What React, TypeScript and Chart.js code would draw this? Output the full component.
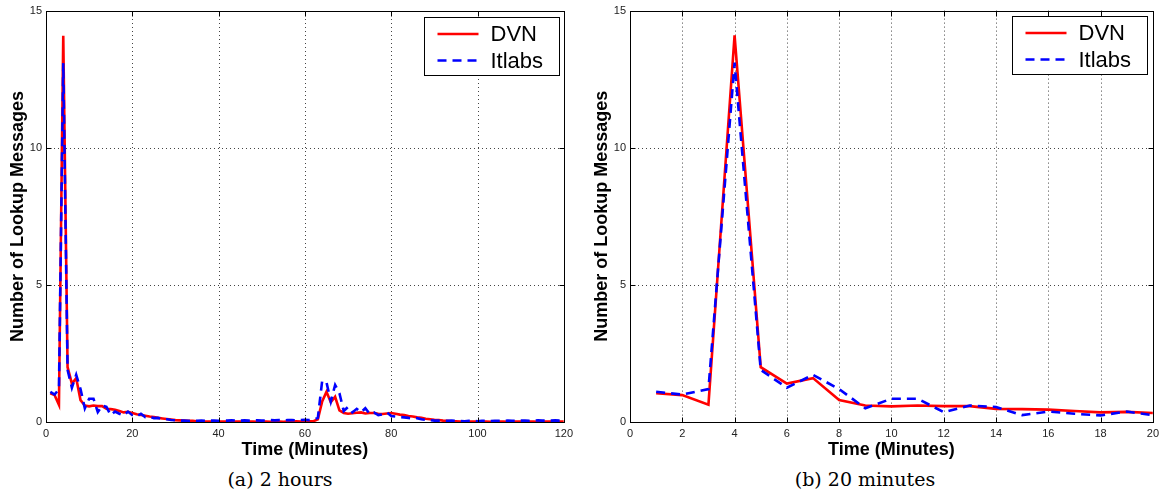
import React, { useEffect, useRef } from 'react';
import { Chart, registerables } from 'chart.js';

Chart.register(...registerables);

// ---- data (values per minute, minutes 1..120) ----
const SERIES_NAMES = ['DVN', 'Itlabs'];
const DVN = [
  1.05, 0.98, 0.63, 14.1, 2.0, 1.4, 1.6, 0.8, 0.6, 0.57,
  0.6, 0.58, 0.58, 0.48, 0.47, 0.45, 0.4, 0.35, 0.37, 0.33,
  0.28, 0.26, 0.23, 0.2, 0.18, 0.15, 0.13, 0.11, 0.09, 0.07,
  0.06, 0.05, 0.04, 0.04, 0.03, 0.03, 0.02, 0.02, 0.02, 0.02,
  0.02, 0.02, 0.01, 0.02, 0.02, 0.01, 0.02, 0.02, 0.01, 0.02,
  0.02, 0.01, 0.02, 0.02, 0.01, 0.02, 0.02, 0.03, 0.02, 0.02,
  0.03, 0.03, 0.1, 0.75, 1.1, 0.72, 0.92, 0.42, 0.33, 0.3,
  0.32, 0.34, 0.35, 0.31, 0.33, 0.33, 0.3, 0.29, 0.31, 0.33,
  0.3, 0.27, 0.25, 0.22, 0.2, 0.17, 0.15, 0.12, 0.1, 0.08,
  0.07, 0.05, 0.04, 0.03, 0.03, 0.02, 0.02, 0.02, 0.02, 0.02,
  0.02, 0.02, 0.01, 0.02, 0.02, 0.02, 0.01, 0.02, 0.02, 0.02,
  0.02, 0.02, 0.02, 0.01, 0.02, 0.02, 0.02, 0.02, 0.02, 0.02,
];
const ITLABS = [
  1.1, 1.0, 1.2, 13.1, 1.9, 1.25, 1.72, 1.2, 0.5, 0.85,
  0.85, 0.36, 0.6, 0.55, 0.25, 0.38, 0.3, 0.24, 0.38, 0.25,
  0.2, 0.3, 0.18, 0.2, 0.14, 0.15, 0.1, 0.1, 0.07, 0.06,
  0.05, 0.05, 0.04, 0.05, 0.04, 0.05, 0.04, 0.05, 0.05, 0.04,
  0.05, 0.05, 0.06, 0.05, 0.05, 0.06, 0.05, 0.06, 0.06, 0.05,
  0.06, 0.07, 0.06, 0.07, 0.06, 0.07, 0.07, 0.06, 0.07, 0.08,
  0.07, 0.08, 0.15, 1.5, 1.45, 0.75, 1.35, 1.05, 0.4, 0.55,
  0.35, 0.48, 0.35, 0.5, 0.3, 0.35, 0.25, 0.28, 0.35, 0.22,
  0.2, 0.18, 0.17, 0.15, 0.12, 0.14, 0.1, 0.08, 0.07, 0.05,
  0.05, 0.04, 0.04, 0.05, 0.04, 0.04, 0.03, 0.04, 0.04, 0.03,
  0.04, 0.04, 0.03, 0.04, 0.04, 0.04, 0.05, 0.04, 0.04, 0.05,
  0.05, 0.04, 0.05, 0.06, 0.05, 0.05, 0.05, 0.06, 0.05, 0.05,
];
const MINUTES = DVN.map((_, i) => i + 1);

const X_MAX_2H = 120;
const X_STEP_2H = 20;
const X_MAX_20M = 20;
const X_STEP_20M = 2;
const Y_MAX = 15;
const Y_STEP = 5;

const X_TITLE = 'Time (Minutes)';
const Y_TITLE = 'Number of Lookup Messages';
const CAPTIONS = ['(a) 2 hours', '(b) 20 minutes'];

const SANS = '"Liberation Sans", Arial, Helvetica, sans-serif';

type PanelCfg = {
  count: number;
  xMax: number;
  xStep: number;
  width: number;
  height: number;
  padTop: number;
  padRight: number;
  yWidth: number;
  yTitlePad: number;
  legRight: number;
  legTop: number;
};

function makeFramePlugin(cfg: PanelCfg) {
  return {
    id: 'matlabFrame',
    beforeDatasetsDraw(chart: any) {
      const { ctx, chartArea: a, scales } = chart;
      const x = scales.x;
      const y = scales.y;
      ctx.save();
      ctx.strokeStyle = '#444';
      ctx.lineWidth = 1;
      ctx.setLineDash([1, 3]);
      x.ticks.forEach((t: any) => {
        const px = Math.round(x.getPixelForValue(t.value)) + 0.5;
        if (px <= a.left + 2 || px >= a.right - 2) return;
        ctx.beginPath();
        ctx.moveTo(px, a.top);
        ctx.lineTo(px, a.bottom);
        ctx.stroke();
      });
      y.ticks.forEach((t: any) => {
        const py = Math.round(y.getPixelForValue(t.value)) + 0.5;
        if (py <= a.top + 2 || py >= a.bottom - 2) return;
        ctx.beginPath();
        ctx.moveTo(a.left, py);
        ctx.lineTo(a.right, py);
        ctx.stroke();
      });
      ctx.restore();
    },
    afterDatasetsDraw(chart: any) {
      const { ctx, chartArea: a, scales } = chart;
      const x = scales.x;
      const y = scales.y;
      const L = Math.round(a.left) + 0.5;
      const R = Math.round(a.right) + 0.5;
      const T = Math.round(a.top) + 0.5;
      const B = Math.round(a.bottom) + 0.5;
      ctx.save();
      ctx.setLineDash([]);
      ctx.strokeStyle = '#000';
      ctx.lineWidth = 1;
      ctx.strokeRect(L, T, R - L, B - T);
      const tl = 5;
      x.ticks.forEach((t: any) => {
        const px = Math.round(x.getPixelForValue(t.value)) + 0.5;
        ctx.beginPath();
        ctx.moveTo(px, B);
        ctx.lineTo(px, B - tl);
        ctx.moveTo(px, T);
        ctx.lineTo(px, T + tl);
        ctx.stroke();
      });
      y.ticks.forEach((t: any) => {
        const py = Math.round(y.getPixelForValue(t.value)) + 0.5;
        ctx.beginPath();
        ctx.moveTo(L, py);
        ctx.lineTo(L + tl, py);
        ctx.moveTo(R, py);
        ctx.lineTo(R - tl, py);
        ctx.stroke();
      });

      // legend box
      const bw = 135;
      const bh = 58;
      const bx = Math.round(a.right - cfg.legRight - bw) + 0.5;
      const by = Math.round(a.top + cfg.legTop) + 0.5;
      ctx.fillStyle = '#fff';
      ctx.fillRect(bx, by, bw, bh);
      ctx.strokeStyle = '#000';
      ctx.lineWidth = 1;
      ctx.strokeRect(bx, by, bw, bh);
      const rows = [16.5, 43];
      chart.data.datasets.forEach((ds: any, i: number) => {
        const cy = by + rows[i];
        ctx.save();
        ctx.strokeStyle = ds.borderColor;
        ctx.lineWidth = ds.borderWidth;
        ctx.setLineDash(ds.borderDash || []);
        ctx.beginPath();
        ctx.moveTo(bx + 13, cy);
        ctx.lineTo(bx + 54, cy);
        ctx.stroke();
        ctx.restore();
        ctx.fillStyle = '#000';
        ctx.font = `22px ${SANS}`;
        ctx.textBaseline = 'middle';
        ctx.textAlign = 'left';
        ctx.fillText(ds.label, bx + 66, cy + 1);
      });
      ctx.restore();
    },
  };
}

function Panel({ cfg }: { cfg: PanelCfg }) {
  const ref = useRef<HTMLCanvasElement | null>(null);
  useEffect(() => {
    if (!ref.current) return;
    const pts = (arr: number[]) =>
      MINUTES.slice(0, cfg.count).map((m, i) => ({ x: m, y: arr[i] }));
    const chart = new Chart(ref.current, {
      type: 'line',
      data: {
        datasets: [
          {
            label: SERIES_NAMES[0],
            data: pts(DVN),
            borderColor: '#ff0000',
            backgroundColor: '#ff0000',
            borderWidth: 2.6,
            pointRadius: 0,
            tension: 0,
            order: 2,
          },
          {
            label: SERIES_NAMES[1],
            data: pts(ITLABS),
            borderColor: '#0000ff',
            backgroundColor: '#0000ff',
            borderWidth: 2.6,
            borderDash: [9, 6],
            pointRadius: 0,
            tension: 0,
            order: 1,
          },
        ],
      },
      options: {
        responsive: false,
        animation: false,
        devicePixelRatio: 1,
        events: [],
        layout: { padding: { left: 0, top: cfg.padTop, right: cfg.padRight, bottom: 0 } },
        plugins: { legend: { display: false }, tooltip: { enabled: false } },
        scales: {
          x: {
            type: 'linear',
            min: 0,
            max: cfg.xMax,
            grid: { display: false, drawTicks: false },
            border: { display: false },
            ticks: {
              stepSize: cfg.xStep,
              padding: 5,
              color: '#222',
              font: { family: SANS, size: 11 },
              maxRotation: 0,
              autoSkip: false,
            },
            title: {
              display: true,
              text: X_TITLE,
              color: '#000',
              font: { family: SANS, size: 18, weight: 'bold' },
              padding: { top: 0, bottom: 1 },
            },
            afterFit: (s: any) => {
              s.height = cfg.height - 422;
            },
          },
          y: {
            type: 'linear',
            min: 0,
            max: Y_MAX,
            grid: { display: false, drawTicks: false },
            border: { display: false },
            ticks: {
              stepSize: Y_STEP,
              padding: 4,
              color: '#222',
              font: { family: SANS, size: 11 },
            },
            title: {
              display: true,
              text: Y_TITLE,
              color: '#000',
              font: { family: SANS, size: 18, weight: 'bold' },
              padding: { top: cfg.yTitlePad, bottom: 0 },
            },
            afterFit: (s: any) => {
              s.width = cfg.yWidth;
            },
          },
        },
      },
      plugins: [makeFramePlugin(cfg)],
    } as any);
    return () => chart.destroy();
  }, [cfg]);
  return <canvas ref={ref} width={cfg.width} height={cfg.height} style={{ display: 'block' }} />;
}

const LEFT_CFG: PanelCfg = {
  count: X_MAX_2H,
  xMax: X_MAX_2H,
  xStep: X_STEP_2H,
  width: 578,
  height: 462,
  padTop: 11,
  padRight: 12,
  yWidth: 46,
  yTitlePad: 7.5,
  legRight: 4.5,
  legTop: 6,
};

const RIGHT_CFG: PanelCfg = {
  count: X_MAX_20M,
  xMax: X_MAX_20M,
  xStep: X_STEP_20M,
  width: 584,
  height: 462,
  padTop: 9,
  padRight: 9,
  yWidth: 50,
  yTitlePad: 11,
  legRight: 6,
  legTop: 5,
};

const captionStyle: React.CSSProperties = {
  position: 'absolute',
  top: 467,
  width: 240,
  textAlign: 'center',
  fontFamily: '"DejaVu Serif", serif',
  fontSize: 19,
  lineHeight: '25px',
  color: '#000',
  whiteSpace: 'nowrap',
};

export default function App() {
  return (
    <div style={{ position: 'absolute', left: 0, top: 0, width: 1164, height: 498, background: '#fff', overflow: 'hidden' }}>
      <div style={{ position: 'absolute', left: 0, top: 0 }}>
        <Panel cfg={LEFT_CFG} />
      </div>
      <div style={{ position: 'absolute', left: 580, top: 0 }}>
        <Panel cfg={RIGHT_CFG} />
      </div>
      <div style={{ ...captionStyle, left: 280 - 120 }}>{CAPTIONS[0]}</div>
      <div style={{ ...captionStyle, left: 865 - 120 }}>{CAPTIONS[1]}</div>
    </div>
  );
}
